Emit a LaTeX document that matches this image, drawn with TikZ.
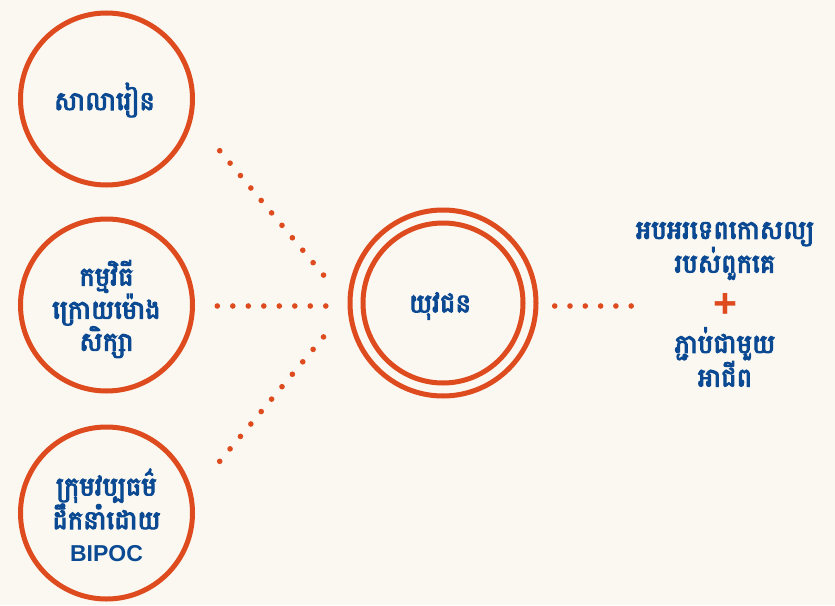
\documentclass[tikz,border=0pt]{standalone}
\usepackage{fontspec}
\newfontfamily\khmer[Script=Khmer, FakeBold=4]{Battambang}
\newfontfamily\latinsans{Liberation Sans}
\definecolor{bgc}{HTML}{FBF8F1}
\definecolor{ringc}{HTML}{DD4B1E}
\definecolor{txtc}{HTML}{0B4A93}
\tikzset{
  ring/.style={circle, draw=ringc, line width=5pt, inner sep=0pt},
  lbl/.style={text=txtc, align=center, inner sep=1pt, font=\khmer\fontsize{26}{29}\selectfont},
  dotline/.style={draw=ringc, line width=5.6pt, line cap=round, dash pattern=on 0pt off #1},
}
\begin{document}
\begin{tikzpicture}[x=1pt,y=-1pt]
\fill[bgc] (0,0) rectangle (835,605);
\useasboundingbox (0,0) rectangle (835,605);
% circles
\node[ring, minimum size=172pt] (school) at (106.5,99) {};
\node[ring, minimum size=172pt] (after) at (106.5,305) {};
\node[ring, minimum size=172pt] (group) at (106.5,513) {};
\node[ring, minimum size=186pt] (youthout) at (443,303) {};
\node[ring, minimum size=160pt] (youth) at (443,303) {};
% labels
\node[lbl] (schooltxt) at (104.5,100) {សាលារៀន};
\node[lbl] (aftertxt) at (106.5,309) {កម្មវិធី\\ក្រោយម៉ោង\\សិក្សា};
\node[lbl] (grouptxt) at (106.5,515) {ក្រុមវប្បធម៌\\ដឹកនាំដោយ\\[3pt]{\latinsans\bfseries\fontsize{23}{23}\selectfont BIPOC}};
\node[lbl] (youthtxt) at (440,306) {យុវជន};
\node[lbl] (out1) at (725,251) {អបអរទេពកោសល្យ\\របស់ពួកគេ};
\node[text=ringc, inner sep=0pt, font=\latinsans\bfseries\fontsize{41}{41}\selectfont] (plus) at (725,305) {+};
\node[lbl, font=\khmer\fontsize{26}{27}\selectfont] (out2) at (725,357) {ភ្ជាប់ជាមួយ\\អាជីព};
% dotted connectors
\coordinate (a1) at (219.7,150.7);
\coordinate (a2) at (323.7,275.3);
\coordinate (b1) at (217.3,306);
\coordinate (b2) at (326,306);
\coordinate (c1) at (219.7,461.3);
\coordinate (c2) at (323.7,336.7);
\coordinate (d1) at (554.7,306);
\coordinate (d2) at (631.3,306);
\draw[dotline=16.2pt] (a1) -- (a2);
\draw[dotline=15.5pt] (b1) -- (b2);
\draw[dotline=16.2pt] (c1) -- (c2);
\draw[dotline=15.3pt] (d1) -- (d2);
\end{tikzpicture}
\end{document}
